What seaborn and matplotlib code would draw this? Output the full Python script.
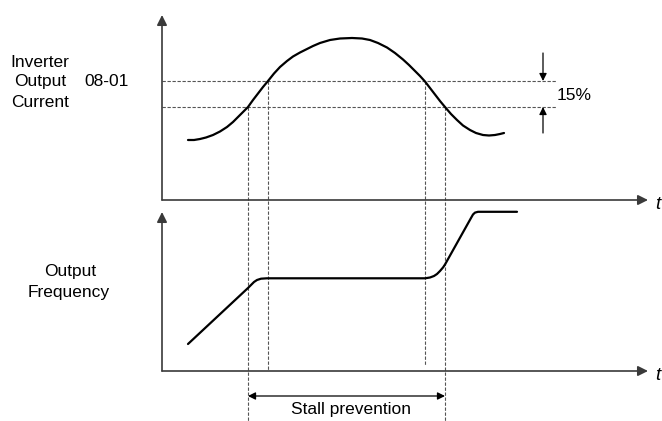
import matplotlib
matplotlib.use("Agg")
import matplotlib.pyplot as plt
import seaborn as sns
import pandas as pd

# coordinates, in picture pixels (y grows downward)
current_x = [188, 194, 200, 206, 213, 220, 227, 233, 238, 243, 248, 253, 258,
             263, 268, 274, 280, 287, 293, 300, 307, 313, 320, 330, 340, 352,
             362, 370, 378, 387, 395, 403, 409, 415, 420, 425, 430, 435, 440,
             445, 451, 457, 463, 470, 476, 483, 489, 495, 500, 504]
current_y = [140, 140, 139, 137.5, 135, 131.5, 127, 122, 117, 112, 107, 100,
             93.5, 87, 81, 73.5, 67, 61, 56.5, 52.5, 49, 46, 43, 40, 38.5, 38,
             38.5, 40, 43, 47.5, 53, 59.5, 65, 71, 76, 81.5, 88, 94.5, 101, 107,
             114, 120, 125.5, 130, 133, 135, 135.5, 135, 134, 133]

freq_x = [188, 248, 251, 254, 257, 261, 267, 425, 430, 434, 437, 440, 443,
          445, 471, 473, 475, 478, 517]
freq_y = [344, 288, 285, 282, 280, 278.7, 278.3, 278.3, 277.5, 276, 274, 271,
          267.5, 264.5, 218, 214.5, 212.6, 211.8, 211.8]

current_levels = [81, 107]          # 08-01 level and 15 % below it
marker_x = [248, 268, 425, 445]     # where the current crosses the levels
marker_top = [107, 81, 81, 107]
marker_bottom = [421, 371, 366, 421]

sns.set_theme(style="white")
plt.rcParams["font.family"] = ["Liberation Sans", "DejaVu Sans"]

fig = plt.figure(figsize=(6.62, 4.21), dpi=100)
ax = fig.add_axes([0, 0, 1, 1])

axis_col = "#3a3a3a"
dash_col = "#555555"

# axes with arrow heads
for y0, top in [(200, 15), (371, 212)]:
    for tip in [(162, top), (648, y0)]:
        ax.annotate("", xy=tip, xytext=(162, y0),
                    arrowprops=dict(arrowstyle="-|>", color=axis_col, lw=1.2,
                                    mutation_scale=15, shrinkA=0, shrinkB=0))

# dashed guides
ax.hlines(current_levels, 162, 557, colors=dash_col, linestyles=(0, (3, 1.5)), lw=0.8)
ax.vlines(marker_x, marker_top, marker_bottom, colors=dash_col,
          linestyles=(0, (3, 1.5)), lw=0.8)

cur = pd.DataFrame({"x": current_x, "y": current_y})
frq = pd.DataFrame({"x": freq_x, "y": freq_y})
sns.lineplot(data=cur, x="x", y="y", sort=False, estimator=None, color="black", lw=1.6, ax=ax)
sns.lineplot(data=frq, x="x", y="y", sort=False, estimator=None, color="black", lw=1.6, ax=ax)
ax.set_xlim(0, 662)
ax.set_ylim(421, 0)
ax.axis("off")

# 15 % arrows
small = dict(arrowstyle="-|>", color="black", lw=0.9, mutation_scale=11, shrinkA=0, shrinkB=0)
ax.annotate("", xy=(543, current_levels[0]), xytext=(543, 53), arrowprops=small)
ax.annotate("", xy=(543, current_levels[1]), xytext=(543, 133), arrowprops=small)
ax.text(557, 100, "15%", fontsize=12.5, color="black", va="baseline")

# stall prevention span
ax.annotate("", xy=(marker_x[0], 396), xytext=(marker_x[3], 396),
            arrowprops=dict(arrowstyle="<|-|>", color="black", lw=0.9,
                            mutation_scale=11, shrinkA=0, shrinkB=0))
ax.text(351, 414, "Stall prevention", fontsize=12.5, color="black", ha="center", va="baseline")

# labels
for label, yb in [("Inverter", 67), ("Output", 86), ("Current", 107)]:
    ax.text(40, yb, label, fontsize=12.5, color="black", ha="center", va="baseline")
ax.text(84, 86, "08-01", fontsize=12.5, color="black", va="baseline")
ax.text(70, 276, "Output", fontsize=12.5, color="black", ha="center", va="baseline")
ax.text(69, 297, "Frequency", fontsize=12.5, color="black", ha="center", va="baseline")
ax.text(655, 209, "t", fontsize=13.5, style="italic", color="black", va="baseline")
ax.text(655, 380, "t", fontsize=13.5, style="italic", color="black", va="baseline")

fig.savefig("out.png", dpi=100)
